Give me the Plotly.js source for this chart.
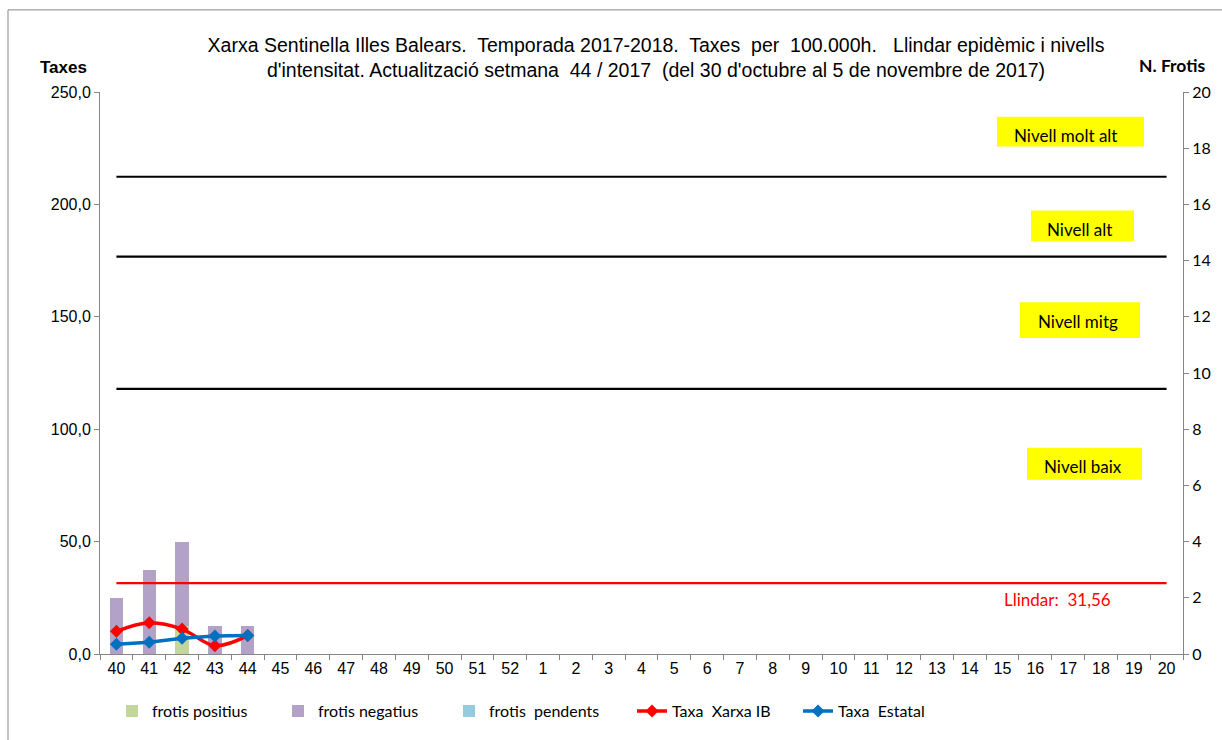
<!DOCTYPE html>
<html>
<head>
<meta charset="utf-8">
<script src="https://cdn.plot.ly/plotly-3.0.1.min.js"></script>
<style>html,body{margin:0;padding:0;background:#fff;}#chart{width:1222px;height:740px;}</style>
</head>
<body>
<div id="chart"></div>
<script>
// Categories (weeks of the season)
const weeks = ['40','41','42','43','44','45','46','47','48','49','50','51','52',
  '1','2','3','4','5','6','7','8','9','10','11','12','13','14','15','16','17','18','19','20'];
// Weeks with data
const dataWeeks = ['40','41','42','43','44'];
// N. frotis (right axis)
const frotisPositius = [0, 0, 1, 0, 0];
const frotisNegatius = [2, 3, 3, 1, 1];
const frotisPendents = [0, 0, 0, 0, 0];
// Taxes per 100.000h (left axis)
const taxaXarxaIB = [10.1, 13.9, 11.1, 3.7, 8.2];
const taxaEstatal = [4.3, 5.2, 7.0, 8.0, 8.2];
// Threshold and intensity levels
const llindar = 31.56;
const nivellMitg = 117.9;
const nivellAlt = 176.8;
const nivellMoltAlt = 212.3;
// Tick values
const leftTicks = [0, 50, 100, 150, 200, 250];
const rightTicks = [0, 2, 4, 6, 8, 10, 12, 14, 16, 18, 20];

const first = weeks[0], last = weeks[weeks.length - 1];
const lineFont = 'Liberation Sans, Arial, sans-serif';
const calFont = 'Lato, Carlito, Calibri, sans-serif';

function hline(v, color, w) {
  return {x: [first, last], y: [v, v], type: 'scatter', mode: 'lines', yaxis: 'y2',
    line: {color: color, width: w}, showlegend: false, hoverinfo: 'skip'};
}

const traces = [
  {x: dataWeeks, y: frotisPositius, type: 'bar', name: 'frotis positius', marker: {color: '#C3D69B'}, legend: 'legend'},
  {x: dataWeeks, y: frotisNegatius, type: 'bar', name: 'frotis negatius', marker: {color: '#B3A2C7'}, legend: 'legend2'},
  {x: dataWeeks, y: frotisPendents, type: 'bar', name: 'frotis\u00a0 pendents', marker: {color: '#93CDDD'}, legend: 'legend3'},
  hline(nivellMoltAlt, '#000000', 2.2),
  hline(nivellAlt, '#000000', 2.2),
  hline(nivellMitg, '#000000', 2.2),
  hline(llindar, '#FF0000', 2.2),
  {x: dataWeeks, y: taxaXarxaIB, type: 'scatter', mode: 'lines+markers', yaxis: 'y2', name: 'Taxa\u00a0 Xarxa IB',
    line: {color: '#FF0000', width: 3.5, shape: 'spline'}, marker: {symbol: 'diamond', size: 10, color: '#FF0000'}, legend: 'legend4'},
  {x: dataWeeks, y: taxaEstatal, type: 'scatter', mode: 'lines+markers', yaxis: 'y2', name: 'Taxa\u00a0 Estatal',
    line: {color: '#0070C0', width: 3.5}, marker: {symbol: 'diamond', size: 10, color: '#0070C0'}, legend: 'legend5'}
];

const L = 100, R = 1183, T = 92.3, B = 655.7;
const px = x => (x - L) / (R - L);
const py = y => (B - y) / (B - T);

function legendAt(textStart) {
  return {x: px(textStart - 40), y: py(713), xanchor: 'left', yanchor: 'middle', orientation: 'h',
    bgcolor: 'rgba(0,0,0,0)', font: {family: calFont, size: 16, color: '#000'}};
}

function box(x0, x1, y0, y1) {
  return {type: 'rect', xref: 'paper', yref: 'paper', x0: px(x0), x1: px(x1), y0: py(y1), y1: py(y0),
    fillcolor: '#FFFF00', line: {width: 0}, layer: 'above'};
}
function label(text, xs, yc) {
  return {text: text, xref: 'paper', yref: 'paper', x: px(xs), y: py(yc), xanchor: 'left', yanchor: 'middle',
    showarrow: false, font: {family: calFont, size: 17, color: '#000'}};
}

const layout = {
  width: 1222, height: 740,
  margin: {l: L, r: 1222 - R, t: T, b: 740 - B, pad: 0},
  paper_bgcolor: '#fff', plot_bgcolor: '#fff',
  separators: ',.',
  barmode: 'stack', bargap: 0.595,
  title: {text: 'Xarxa Sentinella Illes Balears.\u00a0 Temporada 2017-2018.\u00a0 Taxes\u00a0 per\u00a0 100.000h.\u00a0\u00a0 Llindar epidèmic i nivells<br>d\'intensitat. Actualització setmana\u00a0 44 / 2017\u00a0 (del 30 d\'octubre al 5 de novembre de 2017)',
    xref: 'container', yref: 'container', x: 656 / 1222, y: 1 - 52 / 740, xanchor: 'center', yanchor: 'middle',
    font: {family: lineFont, size: 19.5, color: '#000'}},
  xaxis: {type: 'category', categoryorder: 'array', categoryarray: weeks, range: [-0.5, weeks.length - 0.5],
    showline: true, linecolor: '#868686', linewidth: 1, ticks: 'outside', tickson: 'boundaries', ticklen: 5,
    tickcolor: '#868686', showgrid: false, zeroline: false, tickfont: {family: lineFont, size: 16, color: '#000'}},
  yaxis: {range: [0, 20], side: 'right', tickvals: rightTicks, showline: true, linecolor: '#868686', ticks: 'outside',
    ticklen: 5, tickcolor: '#868686', showgrid: false, zeroline: false,
    tickfont: {family: calFont, size: 16, color: '#000'}},
  yaxis2: {range: [0, 250], side: 'left', overlaying: 'y', tickvals: leftTicks, tickformat: '.1f', showline: true,
    linecolor: '#868686', ticks: 'outside', ticklen: 5, tickcolor: '#868686', showgrid: false, zeroline: false,
    tickfont: {family: lineFont, size: 16, color: '#000'}},
  legend: legendAt(152), legend2: legendAt(318), legend3: legendAt(489), legend4: legendAt(672), legend5: legendAt(838),
  shapes: [
    {type: 'rect', xref: 'paper', yref: 'paper', x0: px(8), x1: px(1240), y0: py(760), y1: py(10),
      line: {color: '#878787', width: 1}, fillcolor: 'rgba(0,0,0,0)'},
    box(997, 1144, 117, 147), box(1031, 1134, 211, 242), box(1020, 1140, 303, 339), box(1027, 1142, 449, 481)
  ],
  annotations: [
    label('Nivell molt alt', 1012, 136), label('Nivell alt', 1045, 230), label('Nivell mitg', 1036, 322), label('Nivell baix', 1042, 468),
    {text: 'Llindar:\u00a0 31,56', xref: 'paper', yref: 'paper', x: px(1057), y: py(601), xanchor: 'center', yanchor: 'middle',
      showarrow: false, font: {family: calFont, size: 17, color: '#FF0000'}},
    {text: '<b>Taxes</b>', xref: 'paper', yref: 'paper', x: px(63), y: py(68), xanchor: 'center', yanchor: 'middle',
      showarrow: false, font: {family: lineFont, size: 17, color: '#000'}},
    {text: '<b>N. Frotis</b>', xref: 'paper', yref: 'paper', x: px(1172), y: py(66), xanchor: 'center', yanchor: 'middle',
      showarrow: false, font: {family: calFont, size: 17.5, color: '#000'}}
  ]
};

Plotly.newPlot('chart', traces, layout, {displayModeBar: false, staticPlot: true});
</script>
</body>
</html>
